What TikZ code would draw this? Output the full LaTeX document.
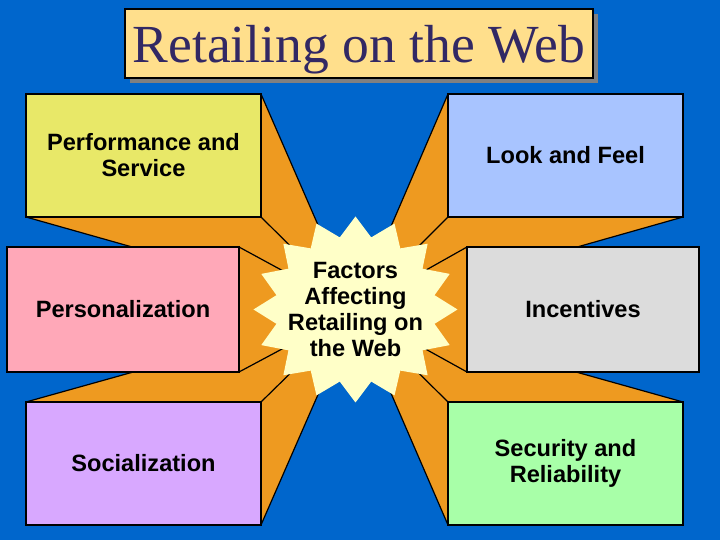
\documentclass[tikz,border=0pt]{standalone}
\usepackage{fontspec}
\setmainfont{Liberation Serif}
\setsansfont{Liberation Sans}
\usetikzlibrary{shadows}
\definecolor{bgblue}{RGB}{0,102,204}
\definecolor{extorange}{RGB}{238,154,32}
\definecolor{perfyellow}{RGB}{232,232,104}
\definecolor{lookblue}{RGB}{168,196,255}
\definecolor{perspink}{RGB}{255,168,184}
\definecolor{incgray}{RGB}{220,220,220}
\definecolor{socviolet}{RGB}{216,168,255}
\definecolor{secgreen}{RGB}{168,255,168}
\definecolor{starfill}{RGB}{255,255,200}
\definecolor{titlefill}{RGB}{255,223,140}
\definecolor{titleink}{RGB}{50,40,100}
\definecolor{shadowgray}{RGB}{128,128,128}

\begin{document}
\begin{tikzpicture}[x=0.5pt, y=-0.5pt,
		factor/.style={draw=black, line width=0.7pt, inner sep=0pt, align=center, font=\sffamily\bfseries\fontsize{11.8}{13}\selectfont},
		wide/.style={minimum width=117.5pt, minimum height=61.5pt},
		narrow/.style={minimum width=116pt, minimum height=62.5pt},
		face/.style={fill=extorange},
		ridge/.style={draw=black, line width=0.6pt}]
		\fill[bgblue] (0,0) rectangle (720,540);
		\coordinate (vp) at (355,310);
		% top and bottom boxes
		\fill[face] (26,94) -- (261,94) -- (vp) -- (26,217) -- cycle;
		\draw[ridge] (261,94) -- (vp) (26,217) -- (vp) (261,217) -- (vp);
		\fill[face] (683,94) -- (448,94) -- (vp) -- (683,217) -- cycle;
		\draw[ridge] (448,94) -- (vp) (683,217) -- (vp) (448,217) -- (vp);
		\fill[face] (26,525) -- (261,525) -- (vp) -- (26,402) -- cycle;
		\draw[ridge] (261,525) -- (vp) (26,402) -- (vp) (261,402) -- (vp);
		\fill[face] (683,525) -- (448,525) -- (vp) -- (683,402) -- cycle;
		\draw[ridge] (448,525) -- (vp) (683,402) -- (vp) (448,402) -- (vp);
		\node[factor, wide, fill=perfyellow] (perf) at (143.5,155.5) {Performance and\\Service};
		\node[factor, wide, fill=lookblue] (look) at (565.5,155.5) {Look and Feel};
		\node[factor, wide, fill=socviolet] (soc) at (143.5,463.5) {Socialization};
		\node[factor, wide, fill=secgreen] (sec) at (565.5,463.5) {Security and\\Reliability};
		% middle boxes
		\fill[face] (7,247) -- (239,247) -- (vp) -- (239,372) -- (7,372) -- cycle;
		\draw[ridge] (239,247) -- (vp) (239,372) -- (vp);
		\fill[face] (699,247) -- (467,247) -- (vp) -- (467,372) -- (699,372) -- cycle;
		\draw[ridge] (467,247) -- (vp) (467,372) -- (vp);
		\node[factor, narrow, fill=perspink] (pers) at (123,309.5) {Personalization};
		\node[factor, narrow, fill=incgray] (inc) at (583,309.5) {Incentives};
		% star
		\fill[starfill, shift={(355.5,309.5)}] (90:102 and 93)
			\foreach \k in {0,...,15} { -- ({90+22.5*\k}:102 and 93) -- ({101.25+22.5*\k}:80.6 and 73.5) } -- cycle;
		\node[align=center, inner sep=0pt, font=\sffamily\bfseries\fontsize{11.8}{13}\selectfont] (factors) at (355.5,309) {Factors\\Affecting\\Retailing on\\the Web};
		% title
		\node[draw=black, line width=0.6pt, fill=titlefill, text=titleink, font=\fontsize{26.8}{30}\selectfont,
			minimum width=234pt, text height=27pt, text depth=7.5pt, inner sep=0pt, anchor=base,
			drop shadow={shadow xshift=2.5pt, shadow yshift=-2.5pt, fill=shadowgray, opacity=1}] (title) at (359,63) {Retailing on the Web};
\end{tikzpicture}
\end{document}
